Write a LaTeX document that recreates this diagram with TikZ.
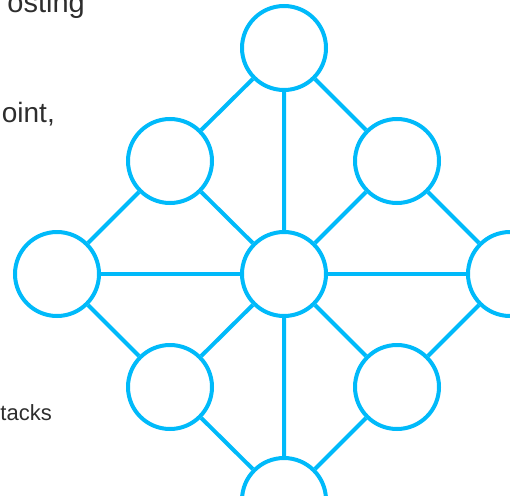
\documentclass[tikz,border=0pt]{standalone}
\usepackage{fontspec}
\setmainfont{Liberation Sans}
\usepackage{tikz}
\usetikzlibrary{calc}
\definecolor{meshblue}{RGB}{0,186,250}
\definecolor{inkgray}{RGB}{45,45,45}

\begin{document}
\begin{tikzpicture}[x=1pt, y=-1pt,
        peer/.style={circle, draw=meshblue, line width=4pt, minimum size=84pt, inner sep=0pt, fill=white},
        link/.style={meshblue, line width=4pt}]
        \useasboundingbox (0,0) rectangle (510,495);
        \clip (0,0) rectangle (510,495);

        % cut-off text on the left
        \node[anchor=base east, inner sep=0pt, text=inkgray, font=\fontsize{29}{30}\selectfont] (txtA) at (85,13) {osting};
        \node[anchor=base east, inner sep=0pt, text=inkgray, font=\fontsize{28}{30}\selectfont] (txtB) at (55,122) {oint,};
        \node[anchor=base east, inner sep=0pt, text=inkgray, font=\fontsize{22}{24}\selectfont] (txtC) at (52,420) {tacks};

        % the mesh
        \node[peer] (top) at (284,48) {};
        \node[peer] (ul) at (170,161) {};
        \node[peer] (ur) at (397,161) {};
        \node[peer] (left) at (57,274) {};
        \node[peer] (hub) at (284,274) {};
        \node[peer] (right) at (510,274) {};
        \node[peer] (ll) at (170,387) {};
        \node[peer] (lr) at (397,387) {};
        \node[peer] (bot) at (284,500) {};

        \draw[link] (top)--(hub) (top)--(ul) (top)--(ur);
        \draw[link] (ul)--(left) (ul)--(hub) (ur)--(hub) (ur)--(right);
        \draw[link] (left)--(hub) (hub)--(right);
        \draw[link] (left)--(ll) (ll)--(hub) (hub)--(lr) (lr)--(right);
        \draw[link] (ll)--(bot) (hub)--(bot) (lr)--(bot);
    \end{tikzpicture}
\end{document}
